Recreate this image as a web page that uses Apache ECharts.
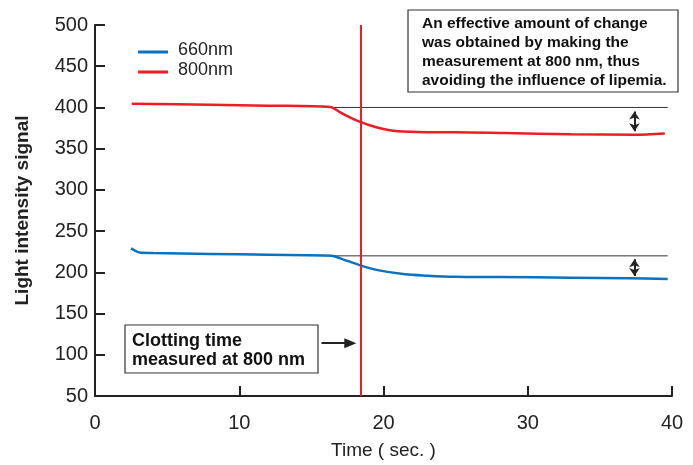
<!DOCTYPE html>
<html>
<head>
<meta charset="utf-8">
<script src="https://cdn.jsdelivr.net/npm/echarts@6/dist/echarts.min.js"></script>
<style>html,body{margin:0;padding:0;background:#fff}#c{width:693px;height:465px}</style>
</head>
<body>
<div id="c"></div>
<script>
var xTicks = [0, 10, 20, 30, 40];
var yTicks = [50, 100, 150, 200, 250, 300, 350, 400, 450, 500];

var time660 = [2.5, 2.8, 3.1, 4, 8, 12, 16.4, 17, 18.3, 19.5, 21.5, 23, 25, 28, 33, 37, 39.7];
var val660  = [229, 226, 224, 223.5, 222.3, 221.3, 220.2, 217, 209, 203, 197.6, 196, 194.7, 194.3, 193.5, 192.8, 192];

var time800 = [2.55, 8, 12, 16.3, 17, 18.3, 19.5, 21, 23, 25, 28.4, 33, 37.4, 39.5];
var val800  = [404.5, 403.2, 402.2, 400.5, 394, 383, 376, 371, 370, 370, 369, 367.5, 367, 368.5];

var refStart = 16.3, refEnd = 39.7;
var ref800 = 400, ref660 = 220;
var clotTime = 18.4;
var arrowX = 37.4;
var arrow800 = [395, 371];
var arrow660 = [216, 195.5];
var clotArrow = {x: [15.7, 17.7], y: 114};

var BLUE = '#0a72be', RED = '#ee1c25';
var FONT = 'Liberation Sans, Arial, sans-serif';

function zip(a, b) { return a.map(function (v, i) { return [v, b[i]]; }); }

var chart = echarts.init(document.getElementById('c'));
chart.setOption({
  animation: false,
  grid: {left: 95, right: 21, top: 25, bottom: 69},
  xAxis: {
    type: 'value', min: xTicks[0], max: xTicks[xTicks.length - 1], interval: 10,
    name: 'Time ( sec. )', nameLocation: 'middle', nameGap: 45,
    nameTextStyle: {fontFamily: FONT, fontSize: 19, color: '#222'},
    axisLine: {lineStyle: {color: '#222', width: 2}},
    axisTick: {inside: true, length: 10, lineStyle: {color: '#222', width: 2}},
    axisLabel: {fontFamily: FONT, fontSize: 20, color: '#222', margin: 17},
    splitLine: {show: false}
  },
  yAxis: {
    type: 'value', min: yTicks[0], max: yTicks[yTicks.length - 1], interval: 50,
    name: 'Light intensity signal', nameLocation: 'middle', nameGap: 63,
    nameTextStyle: {fontFamily: FONT, fontSize: 19, fontWeight: 'bold', color: '#222'},
    axisLine: {show: true, lineStyle: {color: '#222', width: 2}},
    axisTick: {show: true, inside: true, length: 10, lineStyle: {color: '#222', width: 2}},
    axisLabel: {fontFamily: FONT, fontSize: 20, color: '#222', margin: 7},
    splitLine: {show: false}
  },
  series: [
    {
      type: 'line', name: 'ref', data: [[refStart, ref800], [refEnd, ref800]],
      symbol: 'none', lineStyle: {color: '#333', width: 1}, z: 1, silent: true
    },
    {
      type: 'line', name: 'ref2', data: [[refStart, ref660], [refEnd, ref660]],
      symbol: 'none', lineStyle: {color: '#333', width: 1}, z: 1, silent: true
    },
    {
      type: 'line', name: '660nm', data: zip(time660, val660), smooth: 0.3,
      symbol: 'none', lineStyle: {color: BLUE, width: 2.5}, z: 3
    },
    {
      type: 'line', name: '800nm', data: zip(time800, val800), smooth: 0.3,
      symbol: 'none', lineStyle: {color: RED, width: 2.5}, z: 4,
      markLine: {
        silent: true, symbol: 'none', label: {show: false},
        lineStyle: {color: RED, width: 2, type: 'solid'},
        data: [
          {xAxis: clotTime},
          [{coord: [arrowX, arrow800[0]], symbol: 'arrow', symbolSize: 8, lineStyle: {color: '#222', width: 2}},
           {coord: [arrowX, arrow800[1]], symbol: 'arrow', symbolSize: 8}],
          [{coord: [arrowX, arrow660[0]], symbol: 'arrow', symbolSize: 8, lineStyle: {color: '#222', width: 2}},
           {coord: [arrowX, arrow660[1]], symbol: 'arrow', symbolSize: 8}],
          [{coord: [clotArrow.x[0], clotArrow.y], symbol: 'none', lineStyle: {color: '#222', width: 2}},
           {coord: [clotArrow.x[1], clotArrow.y], symbol: 'triangle', symbolSize: [10, 12], symbolRotate: -90}]
        ]
      }
    }
  ],
  graphic: [
    {type: 'line', shape: {x1: 138, y1: 52, x2: 168, y2: 52}, style: {stroke: BLUE, lineWidth: 3}},
    {type: 'line', shape: {x1: 138, y1: 72, x2: 168, y2: 72}, style: {stroke: RED, lineWidth: 3}},
    {type: 'text', left: 178, top: 41, style: {text: '660nm', font: '18px ' + FONT, fill: '#222'}},
    {type: 'text', left: 178, top: 61, style: {text: '800nm', font: '18px ' + FONT, fill: '#222'}},
    {type: 'rect', shape: {x: 408, y: 10, width: 270, height: 82}, style: {fill: '#fff', stroke: '#333', lineWidth: 1.2}, z: 10},
    {type: 'text', left: 422, top: 14, z: 11, style: {
      text: 'An effective amount of change\nwas obtained by making the\nmeasurement at 800 nm, thus\navoiding the influence of lipemia.',
      font: 'bold 15.5px ' + FONT, lineHeight: 19, fill: '#111'}},
    {type: 'rect', shape: {x: 125, y: 325, width: 193, height: 48}, style: {fill: '#fff', stroke: '#333', lineWidth: 1.2}, z: 10},
    {type: 'text', left: 132, top: 332, z: 11, style: {
      text: 'Clotting time\nmeasured at 800 nm',
      font: 'bold 18px ' + FONT, lineHeight: 19, fill: '#111'}}
  ]
});
</script>
</body>
</html>
